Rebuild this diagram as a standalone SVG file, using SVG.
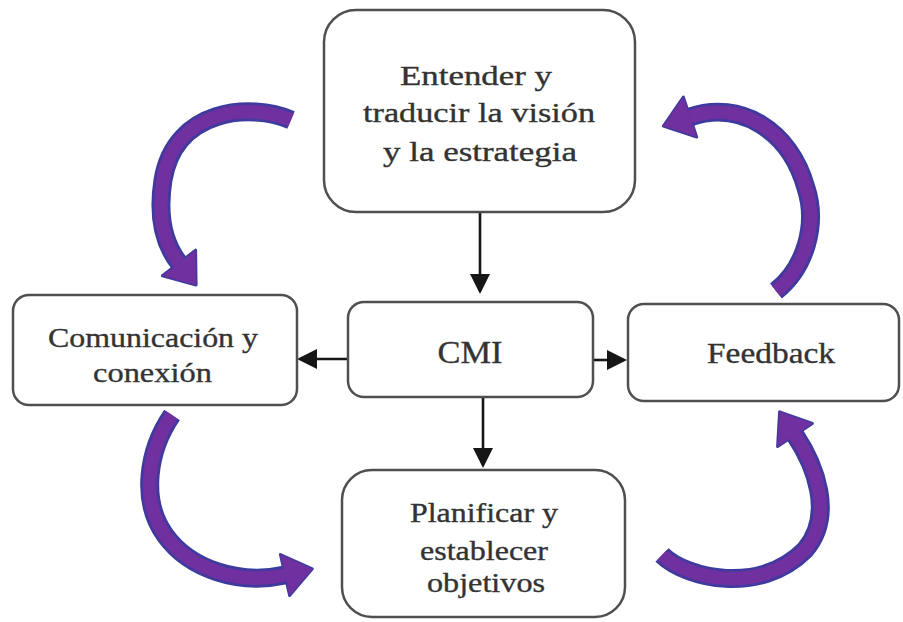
<svg xmlns="http://www.w3.org/2000/svg" width="903" height="622" viewBox="0 0 903 622">
  <style>
    .box { fill: #ffffff; stroke: #4f4f4f; stroke-width: 2.5; }
    .label { font-family: "Liberation Serif", "Times New Roman", serif; fill: #333333; stroke: #333333; stroke-width: 0.35; text-anchor: middle; }
    .link { stroke: #161616; stroke-width: 2.6; fill: none; marker-end: url(#tip); }
    .band-edge { fill: none; stroke: #3f3a9e; stroke-width: 19; stroke-linecap: butt; }
    .band { fill: none; stroke: #7030a0; stroke-width: 13.5; stroke-linecap: butt; }
    .head { fill: #7030a0; stroke: #3f3a9e; stroke-width: 3; stroke-linejoin: round; }
    .head-fill { fill: #7030a0; }
  </style>
  <defs>
    <marker id="tip" viewBox="0 0 20 20" refX="17" refY="10" markerWidth="20" markerHeight="20" markerUnits="userSpaceOnUse" orient="auto">
      <path d="M0,0 L20,10 L0,20 z" fill="#161616"/>
    </marker>
  </defs>

  <rect width="903" height="622" fill="#ffffff"/>

  <!-- cycle arrows around the central block -->
  <g id="cycle">
    <g id="cycle-top-left">
      <path class="band-edge" d="M291,120 C251,103 175,108 163,180 C157,218 165,245 179,263"/>
      <polygon class="head" points="195.6,250.2 196.1,285.1 162.4,275.8"/>
      <path class="band" d="M291,120 C251,103 175,108 163,180 C157,218 165,245 179,263"/>
      <polygon class="head-fill" points="195.6,250.2 196.1,285.1 162.4,275.8"/>
    </g>
    <g id="cycle-top-right">
      <path class="band-edge" d="M776,291 C805,268 818,225 806,188 C790,130 740,100 690,117"/>
      <polygon class="head" points="696.7,137 663.4,126 683.3,97"/>
      <path class="band" d="M776,291 C805,268 818,225 806,188 C790,130 740,100 690,117"/>
      <polygon class="head-fill" points="696.7,137 663.4,126 683.3,97"/>
    </g>
    <g id="cycle-bottom-left">
      <path class="band-edge" d="M172,415 C148,450 140,500 165,535 C190,570 240,585 285,575"/>
      <polygon class="head" points="280.4,554.5 312.3,568.9 289.6,595.5"/>
      <path class="band" d="M172,415 C148,450 140,500 165,535 C190,570 240,585 285,575"/>
      <polygon class="head-fill" points="280.4,554.5 312.3,568.9 289.6,595.5"/>
    </g>
    <g id="cycle-bottom-right">
      <path class="band-edge" d="M662,555 C687,579 760,595 805,550 C835,515 815,465 795,435"/>
      <polygon class="head" points="812.4,423.5 779.6,411.8 777.6,446.5"/>
      <path class="band" d="M662,555 C687,579 760,595 805,550 C835,515 815,465 795,435"/>
      <polygon class="head-fill" points="812.4,423.5 779.6,411.8 777.6,446.5"/>
    </g>
  </g>

  <!-- straight connectors -->
  <g id="connectors">
    <line class="link" x1="480" y1="213" x2="480" y2="291"/>
    <line class="link" x1="347" y1="359" x2="300" y2="359"/>
    <line class="link" x1="594" y1="360" x2="624" y2="360"/>
    <line class="link" x1="483" y1="398" x2="483" y2="465"/>
  </g>

  <g id="node-vision">
    <rect class="box" x="324" y="10" width="311" height="202" rx="32"/>
    <text class="label" font-size="27" x="476" y="85" textLength="152" lengthAdjust="spacingAndGlyphs">Entender y</text>
    <text class="label" font-size="27" x="479" y="122" textLength="232" lengthAdjust="spacingAndGlyphs">traducir la visión</text>
    <text class="label" font-size="27" x="480" y="161" textLength="194" lengthAdjust="spacingAndGlyphs">y la estrategia</text>
  </g>

  <g id="node-cmi">
    <rect class="box" x="348" y="302" width="245" height="95" rx="16"/>
    <text class="label" font-size="32" x="470" y="363" textLength="65" lengthAdjust="spacingAndGlyphs">CMI</text>
  </g>

  <g id="node-comunicacion">
    <rect class="box" x="13" y="295" width="284" height="110" rx="16"/>
    <text class="label" font-size="28" x="153" y="347" textLength="210" lengthAdjust="spacingAndGlyphs">Comunicación y</text>
    <text class="label" font-size="28" x="152.5" y="382" textLength="119" lengthAdjust="spacingAndGlyphs">conexión</text>
  </g>

  <g id="node-feedback">
    <rect class="box" x="628" y="304" width="271" height="97" rx="16"/>
    <text class="label" font-size="30" x="771" y="363" textLength="128" lengthAdjust="spacingAndGlyphs">Feedback</text>
  </g>

  <g id="node-objetivos">
    <rect class="box" x="342" y="470" width="283" height="147" rx="30"/>
    <text class="label" font-size="27" x="484" y="522" textLength="148" lengthAdjust="spacingAndGlyphs">Planificar y</text>
    <text class="label" font-size="27" x="484" y="560" textLength="128" lengthAdjust="spacingAndGlyphs">establecer</text>
    <text class="label" font-size="27" x="486" y="592" textLength="118" lengthAdjust="spacingAndGlyphs">objetivos</text>
  </g>
</svg>
